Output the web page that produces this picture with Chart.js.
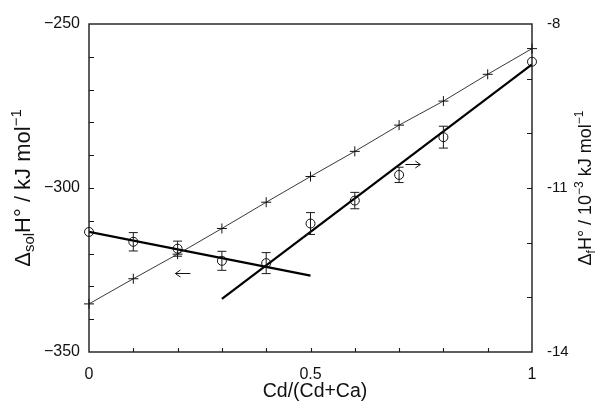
<!DOCTYPE html>
<html>
<head>
<meta charset="utf-8">
<script src="https://cdn.jsdelivr.net/npm/chart.js@4.4.1/dist/chart.umd.min.js"></script>
<style>
  html, body { margin: 0; padding: 0; background: #fff; }
  #wrap { width: 600px; height: 403px; position: relative; }
</style>
</head>
<body>
<div id="wrap"><canvas id="c" width="600" height="403"></canvas></div>
<script>
// ---- data ----
const crossX = [0, 0.1, 0.2, 0.3, 0.4, 0.5, 0.6, 0.7, 0.8, 0.9, 1.0];
const crossY = [-13.12, -12.66, -12.21, -11.74, -11.26, -10.79, -10.33, -9.85, -9.41, -8.92, -8.45]; // right axis
const solX = [0, 0.1, 0.2, 0.3, 0.4];
const solH = [-313.4, -316.4, -318.5, -322.2, -322.9];   // left axis, kJ/mol
const solErr = [0, 2.8, 2.3, 2.9, 3.2];
const formX = [0.5, 0.6, 0.7, 0.8, 1.0];
const formH = [-11.65, -11.23, -10.76, -10.07, -8.69];   // right axis
const formErr = [0.2, 0.15, 0.14, 0.2, 0];
const solFitX = [0, 0.5];
const solFitY = [-313.4, -326.7];
const formFitX = [0.3, 1.0];
const formFitY = [-13.03, -8.74];
const xTicks = [0, 0.5, 1];
const leftTicks = [-350, -300, -250];
const rightTicks = [-14, -11, -8];
// arrow annotations (data coordinates; dir -1 = left, +1 = right)
const arrowLeft = { x: 0.212, y: -325.8, dir: -1 };
const arrowRight = { x: 0.731, y: -10.57, dir: 1 };

const FONT = '"Liberation Sans", Arial, Helvetica, sans-serif';
const pts = (xs, ys) => xs.map((x, i) => ({ x: x, y: ys[i] }));

const framePlugin = {
  id: 'frame',
  afterDraw(chart) {
    const { ctx, chartArea: a, scales } = chart;
    const sx = scales.x, sl = scales.y, sr = scales.y2;
    ctx.save();
    ctx.strokeStyle = '#1a1a1a';
    ctx.lineWidth = 1.4;
    ctx.strokeRect(a.left, a.top, a.right - a.left, a.bottom - a.top);
    ctx.lineWidth = 1.1;
    ctx.beginPath();
    for (let v = 0.1; v < 0.95; v += 0.1) {
      const px = Math.round(sx.getPixelForValue(v)) + 0.5;
      ctx.moveTo(px, a.bottom); ctx.lineTo(px, a.bottom - 4);
    }
    for (let v = -340; v <= -260; v += 10) {
      const py = Math.round(sl.getPixelForValue(v)) + 0.5;
      ctx.moveTo(a.left, py); ctx.lineTo(a.left + 5, py);
    }
    for (let v = -13; v <= -9; v += 1) {
      const py = Math.round(sr.getPixelForValue(v)) + 0.5;
      ctx.moveTo(a.right, py); ctx.lineTo(a.right - 5, py);
    }
    ctx.stroke();

    // error bars
    ctx.lineWidth = 1;
    const bar = (xv, yv, ev, scale) => {
      if (!ev) return;
      const px = sx.getPixelForValue(xv);
      const y1 = scale.getPixelForValue(yv + ev);
      const y2 = scale.getPixelForValue(yv - ev);
      ctx.beginPath();
      ctx.moveTo(px, y1); ctx.lineTo(px, y2);
      ctx.moveTo(px - 4.5, y1); ctx.lineTo(px + 4.5, y1);
      ctx.moveTo(px - 4.5, y2); ctx.lineTo(px + 4.5, y2);
      ctx.stroke();
    };
    solX.forEach((x, i) => bar(x, solH[i], solErr[i], sl));
    formX.forEach((x, i) => bar(x, formH[i], formErr[i], sr));

    // arrows
    const arrow = (ar, scale) => {
      const cx = sx.getPixelForValue(ar.x), cy = Math.round(scale.getPixelForValue(ar.y)) + 0.5;
      const half = 7.5, d = ar.dir;
      const tip = cx + d * half;
      ctx.beginPath();
      ctx.moveTo(cx - d * half, cy); ctx.lineTo(tip, cy);
      ctx.moveTo(tip - d * 5, cy - 3.5); ctx.lineTo(tip, cy); ctx.lineTo(tip - d * 5, cy + 3.5);
      ctx.stroke();
    };
    ctx.strokeStyle = '#111';
    arrow(arrowLeft, sl);
    arrow(arrowRight, sr);

    // axis titles
    ctx.fillStyle = '#111';
    const rich = (segs, cx, cy) => {
      ctx.save();
      ctx.translate(cx, cy);
      ctx.rotate(-Math.PI / 2);
      ctx.textAlign = 'left';
      ctx.textBaseline = 'alphabetic';
      let total = 0;
      segs.forEach(s => { ctx.font = s.size + 'px ' + FONT; s.w = ctx.measureText(s.t).width; total += s.w; });
      let x = -total / 2;
      segs.forEach(s => { ctx.font = s.size + 'px ' + FONT; ctx.fillText(s.t, x, s.dy); x += s.w; });
      ctx.restore();
    };
    rich([
      { t: '\u0394', size: 22, dy: 0 },
      { t: 'sol', size: 15, dy: 4 },
      { t: 'H\u00b0 / kJ mol', size: 22, dy: 0 },
      { t: '\u22121', size: 15, dy: -9 }
    ], 30, 188);
    rich([
      { t: '\u0394', size: 18, dy: 0 },
      { t: 'f', size: 12, dy: 4 },
      { t: 'H\u00b0 / 10', size: 18, dy: 0 },
      { t: '\u22123', size: 12, dy: -8 },
      { t: ' kJ mol', size: 18, dy: 0 },
      { t: '\u22121', size: 12, dy: -8 }
    ], 591, 188);

    ctx.font = '19.5px ' + FONT;
    ctx.textAlign = 'center';
    ctx.textBaseline = 'middle';
    ctx.fillText('Cd/(Cd+Ca)', 315, 392);
    ctx.restore();
  }
};

const circleStyle = {
  showLine: false, pointStyle: 'circle', pointRadius: 4.5, pointBorderWidth: 1,
  pointBorderColor: '#111', pointBackgroundColor: 'rgba(0,0,0,0)', clip: false
};

new Chart(document.getElementById('c'), {
  type: 'scatter',
  data: {
    datasets: [
      {
        label: 'calc', type: 'line', data: pts(crossX, crossY), yAxisID: 'y2',
        borderColor: '#222', borderWidth: 0.9, pointStyle: 'cross', pointRadius: 5,
        pointBorderWidth: 1, pointBorderColor: '#111', fill: false, tension: 0, clip: false
      },
      {
        label: 'solFit', type: 'line', data: pts(solFitX, solFitY), yAxisID: 'y',
        borderColor: '#000', borderWidth: 2.2, pointRadius: 0, fill: false
      },
      {
        label: 'formFit', type: 'line', data: pts(formFitX, formFitY), yAxisID: 'y2',
        borderColor: '#000', borderWidth: 2.2, pointRadius: 0, fill: false
      },
      Object.assign({ label: 'sol', data: pts(solX, solH), yAxisID: 'y' }, circleStyle),
      Object.assign({ label: 'form', data: pts(formX, formH), yAxisID: 'y2' }, circleStyle)
    ]
  },
  options: {
    responsive: false,
    animation: false,
    layout: { padding: { top: 21, right: 0, left: 0, bottom: 0 } },
    plugins: { legend: { display: false }, tooltip: { enabled: false } },
    scales: {
      x: {
        type: 'linear', min: 0, max: 1,
        afterBuildTicks: s => { s.ticks = xTicks.map(v => ({ value: v })); },
        afterFit: s => { s.height = 51; },
        grid: { display: false, drawTicks: false },
        border: { display: false },
        ticks: { color: '#111', font: { family: FONT, size: 16 }, padding: 13, maxRotation: 0,
                 callback: v => String(v) }
      },
      y: {
        type: 'linear', position: 'left', min: -350, max: -250,
        afterBuildTicks: s => { s.ticks = leftTicks.map(v => ({ value: v })); },
        afterFit: s => { s.width = 89; },
        grid: { display: false, drawTicks: false },
        border: { display: false },
        ticks: { color: '#111', font: { family: FONT, size: 16 }, padding: 9,
                 callback: v => '\u2212' + Math.abs(v) }
      },
      y2: {
        type: 'linear', position: 'right', min: -14, max: -8,
        afterBuildTicks: s => { s.ticks = rightTicks.map(v => ({ value: v })); },
        afterFit: s => { s.width = 68; },
        grid: { display: false, drawTicks: false },
        border: { display: false },
        ticks: { color: '#111', font: { family: FONT, size: 15 }, padding: 15,
                 callback: v => '-' + Math.abs(v) }
      }
    }
  },
  plugins: [framePlugin]
});
</script>
</body>
</html>
